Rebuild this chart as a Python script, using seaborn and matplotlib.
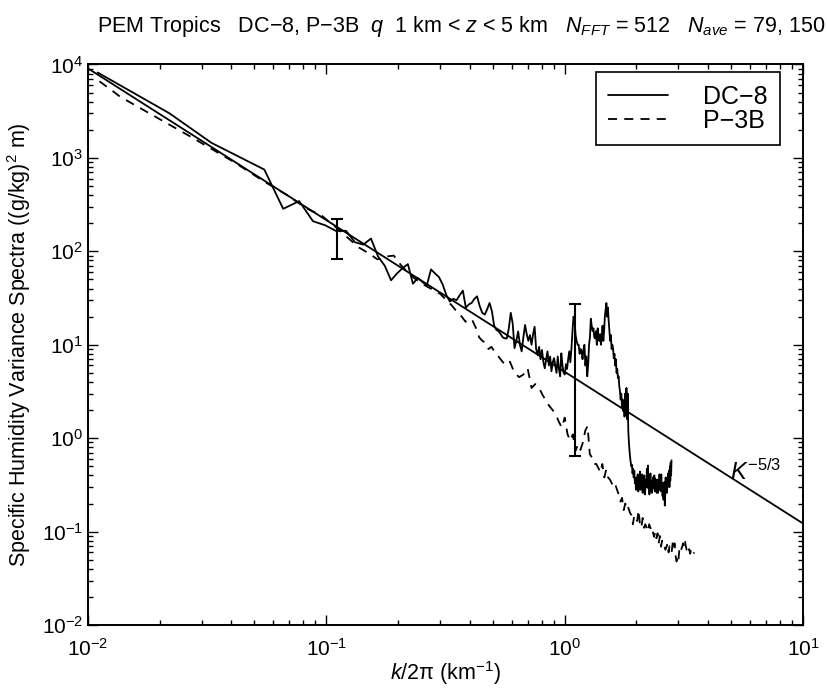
"""PEM Tropics specific humidity variance spectra, DC-8 vs P-3B."""

import numpy as np
import matplotlib
matplotlib.use("Agg")
import matplotlib.pyplot as plt
import seaborn as sns

# ── values ───────────────────────────────────────────────────────────────
dc8_k = [
    0.011, 0.022, 0.033, 0.044, 0.055, 0.066, 0.077, 0.088, 0.099, 0.110,
    0.121, 0.132, 0.143, 0.154, 0.165, 0.176, 0.187, 0.198, 0.209, 0.220,
    0.231, 0.242, 0.253, 0.264, 0.275, 0.286, 0.297, 0.308, 0.319, 0.330,
    0.341, 0.352, 0.363, 0.374, 0.385, 0.396, 0.407, 0.418, 0.429, 0.440,
    0.451, 0.462, 0.473, 0.484, 0.495, 0.506, 0.517, 0.528, 0.539, 0.550,
    0.561, 0.572, 0.583, 0.594, 0.605, 0.616, 0.627, 0.638, 0.649, 0.660,
    0.671, 0.682, 0.693, 0.704, 0.715, 0.726, 0.737, 0.748, 0.759, 0.770,
    0.781, 0.792, 0.803, 0.814, 0.825, 0.836, 0.847, 0.858, 0.869, 0.880,
    0.891, 0.902, 0.913, 0.924, 0.935, 0.946, 0.957, 0.968, 0.979, 0.990,
    1.001, 1.012, 1.023, 1.034, 1.045, 1.056, 1.067, 1.078, 1.089, 1.100,
    1.111, 1.122, 1.133, 1.144, 1.155, 1.166, 1.177, 1.188, 1.199, 1.210,
    1.221, 1.232, 1.243, 1.254, 1.265, 1.276, 1.287, 1.298, 1.309, 1.320,
    1.331, 1.342, 1.353, 1.364, 1.375, 1.386, 1.397, 1.408, 1.419, 1.430,
    1.441, 1.452, 1.463, 1.474, 1.485, 1.496, 1.507, 1.518, 1.529, 1.540,
    1.551, 1.562, 1.573, 1.584, 1.595, 1.606, 1.617, 1.628, 1.639, 1.650,
    1.661, 1.672, 1.683, 1.694, 1.705, 1.716, 1.727, 1.738, 1.749, 1.760,
    1.771, 1.782, 1.793, 1.804, 1.815, 1.826, 1.837, 1.848, 1.859, 1.870,
    1.881, 1.892, 1.903, 1.914, 1.925, 1.936, 1.947, 1.958, 1.969, 1.980,
    1.991, 2.002, 2.013, 2.024, 2.035, 2.046, 2.057, 2.068, 2.079, 2.090,
    2.101, 2.112, 2.123, 2.134, 2.145, 2.156, 2.167, 2.178, 2.189, 2.200,
    2.211, 2.222, 2.233, 2.244, 2.255, 2.266, 2.277, 2.288, 2.299, 2.310,
    2.321, 2.332, 2.343, 2.354, 2.365, 2.376, 2.387, 2.398, 2.409, 2.420,
    2.431, 2.442, 2.453, 2.464, 2.475, 2.486, 2.497, 2.508, 2.519, 2.530,
    2.541, 2.552, 2.563, 2.574, 2.585, 2.596, 2.607, 2.618, 2.629, 2.640,
    2.651, 2.662, 2.673, 2.684, 2.695, 2.706, 2.717, 2.728, 2.739, 2.750,
    2.761, 2.772, 2.783, 2.794, 2.805,
]
dc8_spec = [
    8200, 3000, 1450, 1000, 750, 285, 345, 210, 190, 165,
    166, 125, 118, 137, 88, 70, 49, 58, 66, 73,
    45, 52, 47, 43, 64, 58, 53, 44, 34, 29,
    31, 30, 34, 38, 25, 27, 28, 31, 33, 26,
    22, 21, 24, 28, 23, 16, 14.4, 14, 13, 12,
    11.7, 11.7, 15, 22, 17, 9.2, 11, 13.9, 10, 8.5,
    12, 16.3, 13, 11, 12.7, 10, 13, 15.6, 9, 7.8,
    9.5, 7, 8.8, 6.5, 5.6, 7, 8.5, 6, 7.5, 5.2,
    6.5, 7.2, 6, 5, 7.5, 5.5, 4.6, 8.1, 6, 5,
    4.8, 6.2, 5.5, 7, 8.5, 6.5, 9, 14, 20, 18,
    12.7, 11, 10, 10, 8, 9, 8.5, 7, 9, 10,
    6, 7.5, 4.6, 6, 10, 12, 19, 16, 14, 15,
    12, 11.7, 14, 10, 15, 12, 11, 13, 10, 12,
    16, 11, 14, 20, 24, 28, 20, 25, 18, 14,
    11, 12.7, 9, 10, 9.2, 7.2, 8, 6, 7, 5,
    5.5, 4.4, 4.6, 3.6, 3.2, 2.6, 3, 2.2, 2.6, 1.95,
    2.4, 1.7, 3, 1.8, 3.45, 1.6, 3, 1.2, 0.9, 0.73,
    0.62, 0.55, 0.5, 0.52, 0.42, 0.47, 0.38, 0.45, 0.33, 0.35,
    0.28, 0.38, 0.30, 0.41, 0.27, 0.36, 0.32, 0.44, 0.28, 0.39,
    0.30, 0.41, 0.26, 0.33, 0.29, 0.40, 0.25, 0.28, 0.36, 0.30,
    0.47, 0.34, 0.51, 0.29, 0.38, 0.25, 0.33, 0.42, 0.27, 0.35,
    0.26, 0.31, 0.38, 0.29, 0.33, 0.40, 0.27, 0.37, 0.29, 0.34,
    0.26, 0.36, 0.30, 0.26, 0.33, 0.28, 0.41, 0.30, 0.36, 0.27,
    0.41, 0.29, 0.33, 0.24, 0.31, 0.22, 0.28, 0.34, 0.19, 0.25,
    0.38, 0.28, 0.35, 0.26, 0.38, 0.30, 0.42, 0.33, 0.45, 0.30,
    0.50, 0.35, 0.55, 0.40, 0.58,
]

p3b_k = [
    0.0112, 0.0137, 0.0274, 0.0411, 0.0548, 0.0685, 0.0822, 0.0959, 0.110, 0.123, 0.137,
    0.151, 0.164, 0.178, 0.192, 0.205, 0.219, 0.233, 0.247, 0.260, 0.274,
    0.288, 0.301, 0.315, 0.329, 0.342, 0.356, 0.370, 0.384, 0.397, 0.411,
    0.425, 0.438, 0.452, 0.466, 0.479, 0.493, 0.507, 0.534, 0.562, 0.589,
    0.616, 0.644, 0.671, 0.699, 0.726, 0.753, 0.781, 0.808, 0.836, 0.863,
    0.890, 0.918, 0.945, 0.973, 1.000, 1.028, 1.055, 1.082, 1.110, 1.137,
    1.164, 1.192, 1.219, 1.247, 1.274, 1.301, 1.329, 1.356, 1.384, 1.411,
    1.438, 1.466, 1.493, 1.521, 1.548, 1.575, 1.603, 1.630, 1.658, 1.685,
    1.712, 1.740, 1.767, 1.795, 1.822, 1.849, 1.877, 1.904, 1.932, 1.959,
    1.986, 2.014, 2.041, 2.068, 2.096, 2.123, 2.151, 2.178, 2.205, 2.233,
    2.260, 2.288, 2.315, 2.342, 2.370, 2.397, 2.425, 2.452, 2.479, 2.507,
    2.534, 2.562, 2.589, 2.616, 2.644, 2.671, 2.699, 2.726, 2.753, 2.781,
    2.808, 2.836, 2.863, 2.890, 2.918, 2.945, 2.973, 3.000, 3.027, 3.055,
    3.082, 3.110, 3.137, 3.164, 3.192, 3.219, 3.247, 3.274, 3.301, 3.329,
    3.356, 3.384, 3.411, 3.438, 3.466, 3.493,
]
p3b_spec = [
    6600, 4500, 1650, 900, 560, 400, 290, 240, 180, 140, 110,
    95, 82, 88, 90, 72, 60, 52, 47, 43, 40,
    37, 35, 31, 28, 25, 22, 20, 17.6, 19, 18,
    15, 12, 11, 10.5, 9, 9.5, 8.5, 7.2, 6.1, 6.6,
    5.0, 4.5, 4.8, 5.6, 3.45, 3.8, 3.45, 2.9, 2.5, 2.2,
    2.0, 1.8, 1.5, 1.3, 1.66, 1.1, 0.94, 1.1, 0.73, 0.86,
    0.75, 0.9, 1.2, 1.35, 0.68, 0.62, 0.53, 0.53, 0.48, 0.43,
    0.53, 0.38, 0.46, 0.38, 0.36, 0.33, 0.30, 0.32, 0.28, 0.25,
    0.21, 0.23, 0.17, 0.20, 0.17, 0.18, 0.16, 0.15, 0.12, 0.15,
    0.14, 0.13, 0.17, 0.12, 0.11, 0.14, 0.11, 0.12, 0.11, 0.10,
    0.12, 0.11, 0.095, 0.10, 0.088, 0.10, 0.085, 0.096, 0.075, 0.09,
    0.069, 0.08, 0.069, 0.07, 0.064, 0.068, 0.075, 0.06, 0.07, 0.068,
    0.06, 0.075, 0.065, 0.075, 0.055, 0.048, 0.055, 0.05, 0.065, 0.07,
    0.065, 0.069, 0.075, 0.07, 0.081, 0.07, 0.064, 0.066, 0.06, 0.065,
    0.058, 0.062, 0.059, 0.062, 0.058, 0.06,
]

# k^-5/3 reference line end points
ref_k = [0.01, 10.0]
ref_spec = [9100.0, 0.122]

# confidence bars (lower / upper ends)
err_k = [0.111, 1.108]
err_lo = [83.0, 0.65]
err_hi = [220.0, 27.6]

x_ticks = [1e-2, 1e-1, 1e0, 1e1]
y_ticks = [1e-2, 1e-1, 1e0, 1e1, 1e2, 1e3, 1e4]

TITLE = ("PEM Tropics   DC\u22128, P\u22123B  $q$  1 km < $z$ < 5 km   "
         "$N_{FFT}$ = 512   $N_{ave}$ = 79, 150")


def main():
    sns.set_theme(style="ticks", rc={
        "axes.edgecolor": "black", "text.color": "black",
        "axes.labelcolor": "black", "xtick.color": "black",
        "ytick.color": "black",
    })
    plt.rcParams["font.family"] = ["Liberation Sans", "DejaVu Sans"]
    plt.rcParams["mathtext.fontset"] = "custom"
    plt.rcParams["mathtext.rm"] = "Liberation Sans"
    plt.rcParams["mathtext.it"] = "Liberation Sans:italic"
    plt.rcParams["mathtext.bf"] = "Liberation Sans:bold"

    fig = plt.figure(figsize=(8.28, 6.93), dpi=100)
    ax = fig.add_axes([0.106, 0.098, 0.864, 0.809])

    sns.lineplot(x=ref_k, y=ref_spec, ax=ax, color="black", linewidth=1.3,
                 sort=False)
    sns.lineplot(x=dc8_k, y=dc8_spec, ax=ax, color="black", linewidth=1.3,
                 sort=False, label="DC\u22128")
    sns.lineplot(x=p3b_k, y=p3b_spec, ax=ax, color="black", linewidth=1.3,
                 sort=False, linestyle=(0, (5, 4)), label="P\u22123B")

    ax.errorbar(err_k, err_lo,
                yerr=[np.zeros(len(err_k)), np.subtract(err_hi, err_lo)],
                fmt="none", ecolor="black", elinewidth=1.5,
                capsize=4, capthick=1.5)

    ax.text(4.95, 0.36, "$K^{-5/3}$", fontsize=17, ha="left", va="baseline")

    ax.set(xscale="log", yscale="log", xlim=(1e-2, 1e1), ylim=(1e-2, 1e4))
    ax.set_xticks(x_ticks)
    ax.set_yticks(y_ticks)
    ax.set_xlabel("$k$/2\u03c0 (km$^{-1}$)", fontsize=15.5, labelpad=0)
    ax.set_ylabel("Specific Humidity Variance Spectra ((g/kg)$^2$ m)",
                  fontsize=15.5)
    ax.yaxis.set_label_coords(-0.077, 0.5)

    ax.tick_params(which="both", direction="in", top=True, right=True,
                   labelsize=15, width=1.0)
    ax.tick_params(which="major", length=7)
    ax.tick_params(which="minor", length=3.5)
    ax.tick_params(axis="x", which="major", pad=9)
    for spine in ax.spines.values():
        spine.set_linewidth(1.4)

    leg = ax.legend(loc="upper right", bbox_to_anchor=(0.968, 0.986),
                    fontsize=18, frameon=True, fancybox=False,
                    edgecolor="black", framealpha=1, handlelength=2.4,
                    handletextpad=1.4, borderpad=0.5, labelspacing=0.0,
                    borderaxespad=0)
    leg.get_frame().set_linewidth(1.2)

    fig.text(0.557, 0.962, TITLE, ha="center", va="center", fontsize=15.5)

    fig.savefig("out.png", dpi=100)
    plt.close(fig)


if __name__ == "__main__":
    main()
